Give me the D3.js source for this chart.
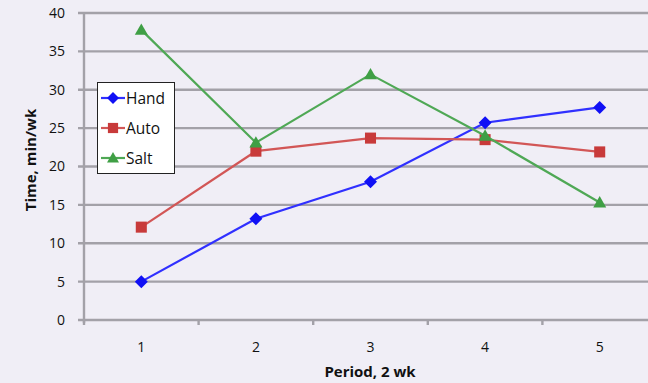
<!DOCTYPE html>
<html>
<head>
<meta charset="utf-8">
<script src="https://cdn.jsdelivr.net/npm/d3@7"></script>
<style>
  html, body { margin: 0; padding: 0; background: #f0eef6; }
  svg { display: block; font-family: "Open Sans", Lato, sans-serif; }
</style>
</head>
<body>
<svg id="chart" width="648" height="383"></svg>
<script>
const periods = ["1", "2", "3", "4", "5"];
const hand = [5.0, 13.2, 18.0, 25.7, 27.7];
const auto = [12.1, 22.0, 23.7, 23.5, 21.9];
const salt = [37.8, 23.1, 32.0, 24.0, 15.3];
const yTicks = [0, 5, 10, 15, 20, 25, 30, 35, 40];

const seriesNames = ["Hand", "Auto", "Salt"];
const seriesValues = [hand, auto, salt];
const colors = { Hand: "#1010f5", Auto: "#c83a3a", Salt: "#3f9f45" };
const lineColors = { Hand: "#3030ff", Auto: "#d25656", Salt: "#4fa855" };

const svg = d3.select("#chart");
const plotLeft = 84, plotRight = 657, plotTop = 13, plotBottom = 320;
const gridColor = "#a3a1a8";

const x = d3.scaleBand().domain(periods).range([plotLeft, plotRight]);
const y = d3.scaleLinear().domain([0, 40]).range([plotBottom, plotTop]);

// horizontal gridlines, extending a little left as tick marks
svg.append("g").selectAll("line").data(yTicks).join("line")
  .attr("x1", plotLeft - 6).attr("x2", 648)
  .attr("y1", d => y(d)).attr("y2", d => y(d))
  .attr("stroke", gridColor).attr("stroke-width", 2.4);

// y axis line
svg.append("line").attr("x1", plotLeft).attr("x2", plotLeft).attr("y1", plotTop).attr("y2", plotBottom + 3)
  .attr("stroke", gridColor).attr("stroke-width", 2.4);

// y tick labels
svg.append("g").selectAll("text").data(yTicks).join("text")
  .attr("x", 65).attr("y", d => y(d)).attr("dy", "0.35em")
  .attr("text-anchor", "end").attr("font-size", 14).attr("fill", "#111")
  .text(d => d);

// x axis ticks at category boundaries
const bounds = periods.map(p => x(p)).concat([plotRight]);
svg.append("g").selectAll("line").data(bounds).join("line")
  .attr("x1", d => d).attr("x2", d => d).attr("y1", plotBottom).attr("y2", plotBottom + 5)
  .attr("stroke", gridColor).attr("stroke-width", 2.4);

// x tick labels
svg.append("g").selectAll("text").data(periods).join("text")
  .attr("x", d => x(d) + x.bandwidth() / 2).attr("y", 352)
  .attr("text-anchor", "middle").attr("font-size", 14).attr("fill", "#111")
  .text(d => d);

// axis titles
svg.append("text").attr("x", 370).attr("y", 377).attr("text-anchor", "middle")
  .attr("font-size", 15).attr("font-weight", "bold").attr("fill", "#111")
  .text("Period, 2 wk");
svg.append("text").attr("transform", "translate(36,160) rotate(-90)")
  .attr("text-anchor", "middle").attr("font-size", 15).attr("font-weight", "bold").attr("fill", "#111")
  .text("Time, min/wk");

const cx = p => x(p) + x.bandwidth() / 2;
const line = d3.line().x((d, i) => cx(periods[i])).y(d => y(d));

function marker(g, name, px, py, s) {
  const c = colors[name];
  if (name === "Hand") {
    g.append("path").attr("d", `M${px},${py - s}L${px + s},${py}L${px},${py + s}L${px - s},${py}Z`).attr("fill", c);
  } else if (name === "Auto") {
    g.append("rect").attr("x", px - s * 0.85).attr("y", py - s * 0.85)
      .attr("width", s * 1.7).attr("height", s * 1.7).attr("fill", c);
  } else {
    g.append("path").attr("d", `M${px},${py - s}L${px + s},${py + s * 0.75}L${px - s},${py + s * 0.75}Z`).attr("fill", c);
  }
}

seriesNames.forEach((name, k) => {
  const vals = seriesValues[k];
  svg.append("path").datum(vals).attr("d", line)
    .attr("fill", "none").attr("stroke", lineColors[name]).attr("stroke-width", 2.2);
  const g = svg.append("g");
  vals.forEach((v, i) => marker(g, name, cx(periods[i]), y(v), 6.5));
});

// legend
const lg = svg.append("g");
lg.append("rect").attr("x", 97.5).attr("y", 82.5).attr("width", 77).attr("height", 91)
  .attr("fill", "#ffffff").attr("stroke", "#222").attr("stroke-width", 1);
seriesNames.forEach((name, k) => {
  const ly = 98 + k * 30;
  lg.append("line").attr("x1", 101).attr("x2", 125).attr("y1", ly).attr("y2", ly)
    .attr("stroke", lineColors[name]).attr("stroke-width", 2.2);
  marker(lg, name, 113, ly, 6);
  lg.append("text").attr("x", 126).attr("y", ly).attr("dy", "0.36em")
    .attr("font-size", 15.5).attr("fill", "#111").text(name);
});
</script>
</body>
</html>
